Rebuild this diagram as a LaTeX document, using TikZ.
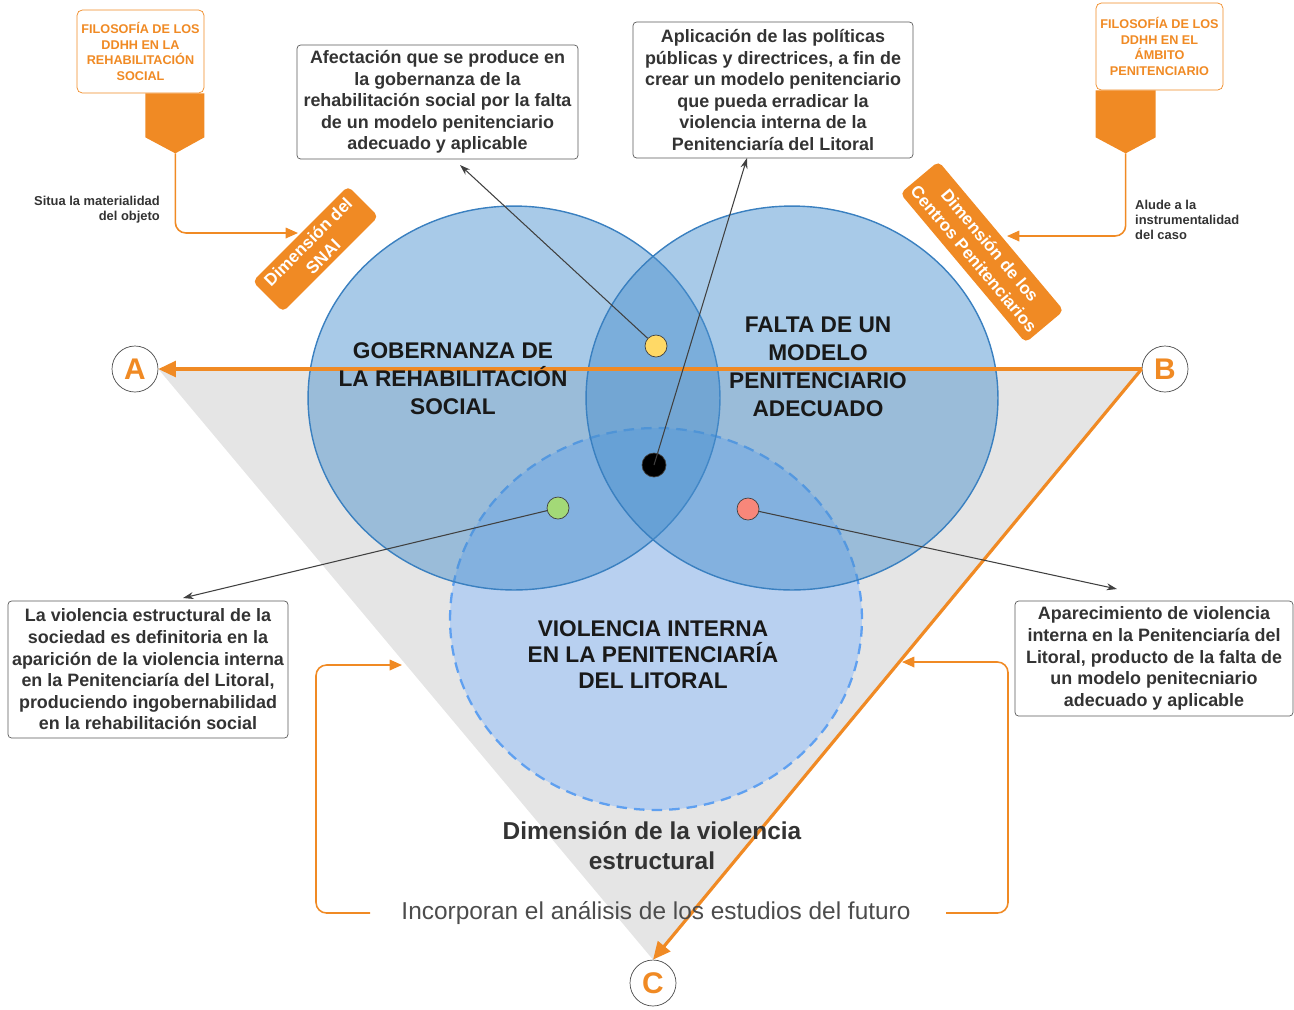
\documentclass[tikz,border=0pt]{standalone}
\usepackage{fontspec}
\setmainfont{Liberation Sans}
\usetikzlibrary{arrows.meta}
\definecolor{orng}{RGB}{240,138,36}
\definecolor{txtgray}{RGB}{51,51,51}
\definecolor{bluecirc}{RGB}{74,144,206}
\definecolor{blueedge}{RGB}{58,128,192}
\definecolor{bluedash}{RGB}{184,208,240}
\definecolor{dashedge}{RGB}{95,160,240}
\definecolor{trigray}{RGB}{229,229,229}
\definecolor{dotyellow}{RGB}{255,217,102}
\definecolor{dotgreen}{RGB}{163,217,119}
\definecolor{dotred}{RGB}{248,135,122}

\begin{document}
\begin{tikzpicture}[x=0.02cm,y=-0.02cm,
    txtbox/.style={draw=black!65,rounded corners=2pt,fill=white,align=center,inner sep=1pt,
      font=\bfseries\fontsize{10.2}{12.3}\selectfont,text=txtgray},
    filo/.style={draw=orng,rounded corners=3pt,fill=white,align=center,inner sep=1pt,
      font=\bfseries\fontsize{7.2}{8.8}\selectfont,text=orng,minimum width=2.54cm},
    dimbox/.style={fill=orng,rounded corners=3pt,align=center,inner sep=1pt,text=white,
      font=\bfseries\fontsize{9.7}{12}\selectfont},
    letter/.style={circle,draw=black!70,fill=white,minimum size=0.92cm,inner sep=0pt,
      text=orng,font=\bfseries\fontsize{17}{17}\selectfont},
    dot/.style={circle,draw=black!75,minimum size=0.44cm,inner sep=0pt},
    circlbl/.style={align=center,font=\bfseries\fontsize{12.9}{15.9}\selectfont,text=black!90},
    note/.style={font=\bfseries\fontsize{7.35}{8.6}\selectfont,text=txtgray},
    link/.style={black!75,line width=0.6pt,-{Stealth[length=6pt,width=4pt]}},
    bigarrow/.style={orng,line width=1.8pt,-{Triangle[length=10pt,width=9pt]}},
    bracket/.style={orng,line width=0.9pt,rounded corners=6pt,-{Triangle[length=7pt,width=6pt]}},
  ]
  \useasboundingbox (0,0) rectangle (1294,1009);

  \node[letter] (A) at (135,369) {A};
  \node[letter] (B) at (1165,369) {B};
  \node[letter] (C) at (653,983) {C};
  \fill[trigray] (A.east) -- (B.west) -- (C.north) -- cycle;

  \filldraw[fill=bluedash,draw=dashedge,line width=1.3pt,dash pattern=on 6pt off 4pt] (656,619) ellipse [x radius=4.12cm,y radius=3.82cm];
  \filldraw[fill=bluecirc,fill opacity=0.48,draw=blueedge,line width=0.8pt] (514,398) ellipse [x radius=4.12cm,y radius=3.84cm];
  \filldraw[fill=bluecirc,fill opacity=0.48,draw=blueedge,line width=0.8pt] (792,398) ellipse [x radius=4.12cm,y radius=3.84cm];

  \draw[bigarrow] (B.west) -- (A.east);
  \draw[bigarrow] (B.west) -- (C.north);

  \node[circlbl] (gob) at (453,379) {GOBERNANZA DE\\LA REHABILITACIÓN\\SOCIAL};
  \node[circlbl] (falta) at (818,367) {FALTA DE UN\\MODELO\\PENITENCIARIO\\ADECUADO};
  \node[circlbl,font=\bfseries\fontsize{12.9}{14.7}\selectfont] (viol) at (653,655) {VIOLENCIA INTERNA\\EN LA PENITENCIARÍA\\DEL LITORAL};
  \node[align=center,font=\bfseries\fontsize{13.9}{17}\selectfont,text=txtgray] (estr) at (652,846) {Dimensión de la violencia\\estructural};
  \node[font=\fontsize{13.9}{17}\selectfont,text=black!70] (incorp) at (656,913) {Incorporan el análisis de los estudios del futuro};

  \coordinate (lb1) at (370,913);
  \coordinate (lb2) at (402,665);
  \coordinate (rb1) at (946,913);
  \coordinate (rb2) at (902,662);
  \draw[bracket] (lb1) -- ++(-54,0) |- (lb2);
  \draw[bracket] (rb1) -- ++(62,0) |- (rb2);

  \node[filo,minimum height=1.66cm] (filoL) at (140.5,51.5) {FILOSOFÍA DE LOS\\DDHH EN LA\\REHABILITACIÓN\\SOCIAL};
  \node[filo,minimum height=1.74cm] (filoR) at (1159.5,46.5) {FILOSOFÍA DE LOS\\DDHH EN EL\\ÁMBITO\\PENITENCIARIO};
  \fill[orng] (filoL.south east) -- ++(0,44) -- ++(-29,16) coordinate (tipL) -- ++(-30,-16) -- ++(0,-44) -- cycle;
  \fill[orng] (filoR.south west) -- ++(0,47) -- ++(30,16) coordinate (tipR) -- ++(30,-16) -- ++(0,-47) -- cycle;

  \node[dimbox,rotate=45,minimum width=2.7cm,minimum height=0.86cm] (snai) at (315.5,249) {Dimensión del\\SNAI};
  \node[dimbox,rotate=-50,minimum width=3.9cm,minimum height=1.0cm] (centros) at (982,252) {Dimensión de los\\Centros Penitenciarios};
  \coordinate (snaiin) at (298,233);
  \coordinate (centrosin) at (1007,236);
  \draw[bracket] (tipL) |- (snaiin);
  \draw[bracket] (tipR) |- (centrosin);
  \node[note,anchor=east,align=right] (situa) at (166,210) {Situa la materialidad\\del objeto};
  \node[note,anchor=west,align=left] (alude) at (1129,220) {Alude a la\\instrumentalidad\\del caso};

  \node[txtbox,minimum width=5.62cm,minimum height=2.28cm] (afect) at (437.5,102) {Afectación que se produce en\\la gobernanza de la\\rehabilitación social por la falta\\de un modelo penitenciario\\adecuado y aplicable};
  \node[txtbox,minimum width=5.6cm,minimum height=2.72cm] (aplic) at (773,90) {Aplicación de las políticas\\públicas y directrices, a fin de\\crear un modelo penitenciario\\que pueda erradicar la\\violencia interna de la\\Penitenciaría del Litoral};
  \node[txtbox,minimum width=5.6cm,minimum height=2.74cm] (estruct) at (148,669.5) {La violencia estructural de la\\sociedad es definitoria en la\\aparición de la violencia interna\\en la Penitenciaría del Litoral,\\produciendo ingobernabilidad\\en la rehabilitación social};
  \node[txtbox,minimum width=5.56cm,minimum height=2.3cm] (aparec) at (1154,658.5) {Aparecimiento de violencia\\interna en la Penitenciaría del\\Litoral, producto de la falta de\\un modelo penitecniario\\adecuado y aplicable};

  \node[dot,fill=dotyellow] (ydot) at (656,346) {};
  \node[dot,fill=black,minimum size=0.48cm] (kdot) at (654,465) {};
  \node[dot,fill=dotgreen] (gdot) at (558,508) {};
  \node[dot,fill=dotred] (rdot) at (748,509) {};
  \coordinate (afectin) at (460,165);
  \coordinate (aplicin) at (747,158);
  \coordinate (estructin) at (183,598);
  \coordinate (aparecin) at (1117,589);
  \draw[link] (ydot) -- (afectin);
  \draw[link] (kdot.center) -- (aplicin);
  \draw[link] (gdot) -- (estructin);
  \draw[link] (rdot) -- (aparecin);
\end{tikzpicture}
\end{document}
